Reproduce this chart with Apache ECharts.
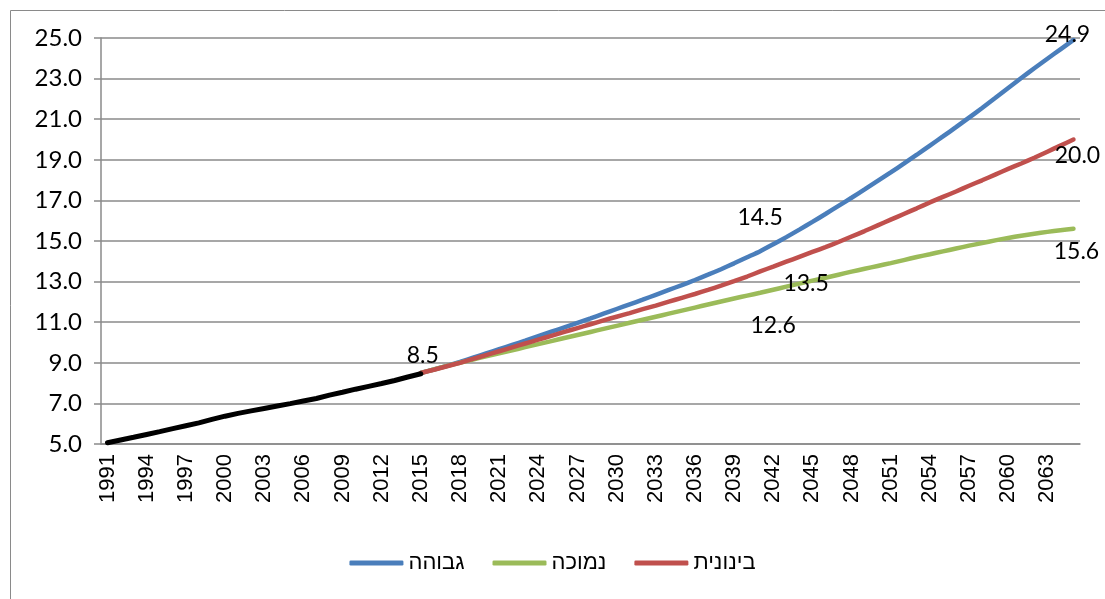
<!DOCTYPE html>
<html>
<head>
<meta charset="utf-8">
<script src="https://cdn.jsdelivr.net/npm/echarts@6/dist/echarts.min.js"></script>
<style>html,body{margin:0;padding:0;background:#fff;}#c{width:1105px;height:599px;}</style>
</head>
<body>
<div id="c"></div>
<script>
// Years on the category axis
var years = [];
for (var y = 1991; y <= 2065; y++) years.push(String(y));

// Historical population 1991-2015 (millions)
var historical = [5.06, 5.20, 5.33, 5.47, 5.61, 5.76, 5.90, 6.04, 6.21, 6.37, 6.51, 6.63, 6.75,
  6.87, 6.99, 7.12, 7.24, 7.41, 7.55, 7.70, 7.84, 7.98, 8.13, 8.30, 8.46];

// Projections 2015-2065
var high = [8.50, 8.67, 8.85, 9.04, 9.25, 9.46, 9.67, 9.88, 10.09, 10.31, 10.53, 10.75, 10.97,
  11.19, 11.42, 11.65, 11.88, 12.11, 12.35, 12.59, 12.83, 13.08, 13.34, 13.61, 13.90, 14.20,
  14.50, 14.84, 15.19, 15.56, 15.94, 16.33, 16.73, 17.13, 17.54, 17.96, 18.38, 18.81, 19.25,
  19.70, 20.15, 20.61, 21.08, 21.55, 22.04, 22.54, 23.03, 23.51, 23.98, 24.44, 24.90];
var low = [8.50, 8.67, 8.84, 9.00, 9.16, 9.32, 9.47, 9.62, 9.77, 9.92, 10.07, 10.22, 10.37,
  10.52, 10.67, 10.82, 10.97, 11.12, 11.27, 11.42, 11.57, 11.72, 11.87, 12.02, 12.17, 12.31,
  12.45, 12.60, 12.75, 12.90, 13.05, 13.19, 13.34, 13.49, 13.63, 13.77, 13.91, 14.06, 14.21,
  14.35, 14.49, 14.63, 14.77, 14.90, 15.03, 15.15, 15.26, 15.36, 15.45, 15.53, 15.60];
var medium = [8.50, 8.66, 8.83, 9.00, 9.19, 9.38, 9.57, 9.76, 9.95, 10.14, 10.33, 10.52, 10.71,
  10.90, 11.09, 11.27, 11.45, 11.64, 11.82, 12.01, 12.20, 12.39, 12.59, 12.80, 13.02, 13.25,
  13.50, 13.74, 13.98, 14.22, 14.46, 14.70, 14.95, 15.22, 15.49, 15.77, 16.05, 16.33, 16.61,
  16.90, 17.17, 17.44, 17.72, 17.99, 18.27, 18.55, 18.82, 19.10, 19.40, 19.70, 20.00];

var seriesNames = { high: 'גבוהה', low: 'נמוכה', medium: 'בינונית', hist: 'נתונים' };
var yTicks = { min: 5, max: 25, step: 2 };

var projStart = 2015;
var labelFont = { fontFamily: 'Lato', fontSize: 23, color: '#000', align: 'center', verticalAlign: 'middle' };

function pad(arr, startYear, labels) {
  var out = [];
  for (var i = 0; i < years.length; i++) {
    var yr = 1991 + i;
    var idx = yr - startYear;
    if (idx < 0 || idx >= arr.length) { out.push(null); continue; }
    var item = { value: arr[idx] };
    if (labels && labels[yr]) {
      item.label = Object.assign({ show: true, position: labels[yr],
        formatter: function (p) { return Number(p.value).toFixed(1); } }, labelFont);
    }
    out.push(item);
  }
  return out;
}

var chart = echarts.init(document.getElementById('c'), null, { renderer: 'canvas' });
var lineBase = {
  type: 'line', showSymbol: true, showAllSymbol: true, symbol: 'circle', symbolSize: 0.1,
  smooth: 0.2, animation: false, emphasis: { disabled: true },
  label: { show: false }
};

chart.setOption({
  animation: false,
  graphic: [{
    type: 'rect', left: 8, top: 8, silent: true,
    shape: { width: 1200, height: 700 },
    style: { fill: 'none', stroke: '#8a8a8a', lineWidth: 1 }
  }],
  grid: { left: 101, right: 25, top: 38, bottom: 155, containLabel: false },
  legend: {
    data: [seriesNames.high, seriesNames.low, seriesNames.medium],
    bottom: 20, left: 'center',
    icon: 'roundRect', itemWidth: 54, itemHeight: 5, itemGap: 28,
    textStyle: { fontFamily: 'Liberation Sans', fontSize: 22, color: '#000' }
  },
  xAxis: {
    type: 'category', data: years, boundaryGap: true,
    axisLine: { lineStyle: { color: '#8a8a8a', width: 1.5 } },
    axisTick: { interval: 0, length: 6, lineStyle: { color: '#8a8a8a', width: 1.5 } },
    axisLabel: { interval: 2, rotate: 90, margin: 10, fontFamily: 'Liberation Sans', fontSize: 22, color: '#000' },
    splitLine: { show: false }
  },
  yAxis: {
    type: 'value', min: yTicks.min, max: yTicks.max, interval: yTicks.step,
    axisLine: { show: true, lineStyle: { color: '#8a8a8a', width: 1.5 } },
    axisTick: { show: true, length: 7, lineStyle: { color: '#8a8a8a', width: 1.5 } },
    axisLabel: { margin: 19, fontFamily: 'Lato', fontSize: 24, color: '#000', formatter: function (v) { return v.toFixed(1); } },
    splitLine: { lineStyle: { color: '#8a8a8a', width: 1.5 } }
  },
  series: [
    Object.assign({}, lineBase, {
      name: seriesNames.high, z: 2,
      data: pad(high, projStart, {
        2041: [0, -34],
        2065: [-6, -5]
      }),
      lineStyle: { color: '#4a7ebb', width: 4.5, cap: 'round' }, itemStyle: { color: '#4a7ebb' }
    }),
    Object.assign({}, lineBase, {
      name: seriesNames.low, z: 3,
      data: pad(low, projStart, {
        2042: [0, 36],
        2065: [3, 23]
      }),
      lineStyle: { color: '#9bbb59', width: 4.5, cap: 'round' }, itemStyle: { color: '#9bbb59' }
    }),
    Object.assign({}, lineBase, {
      name: seriesNames.medium, z: 4,
      data: pad(medium, projStart, {
        2015: [2, -17],
        2041: [46, 12],
        2065: [4, 16]
      }),
      lineStyle: { color: '#c0504d', width: 4.5, cap: 'round' }, itemStyle: { color: '#c0504d' }
    }),
    Object.assign({}, lineBase, {
      name: seriesNames.hist, z: 5, smooth: false,
      data: pad(historical, 1991),
      lineStyle: { color: '#000', width: 5, cap: 'round' }, itemStyle: { color: '#000' }
    })
  ]
});
</script>
</body>
</html>
